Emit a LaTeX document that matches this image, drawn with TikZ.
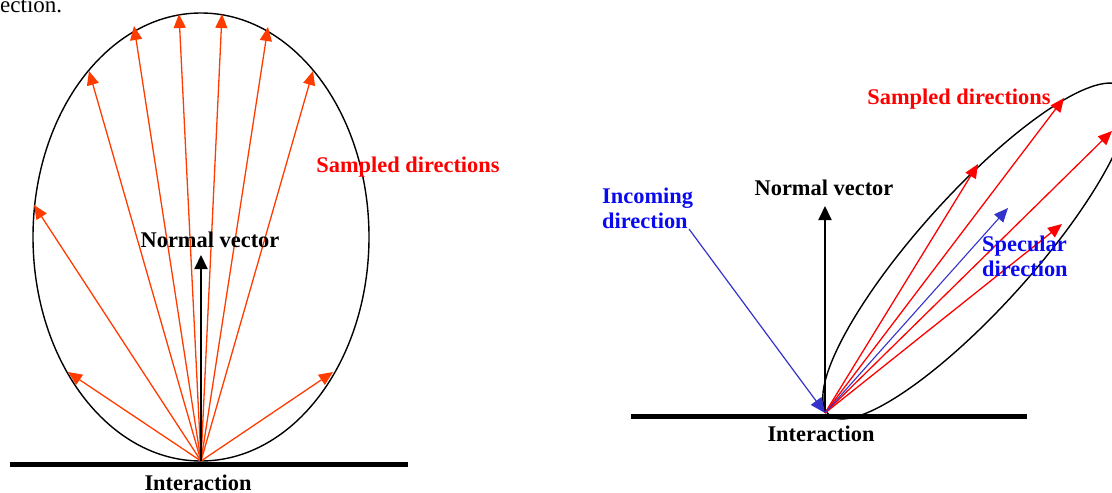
\documentclass[tikz,border=0pt]{standalone}
\usepackage{fontspec}
\setmainfont{Liberation Serif}
\usetikzlibrary{arrows.meta}

\definecolor{sampleorange}{RGB}{255,60,0}
\definecolor{samplered}{RGB}{255,0,0}
\definecolor{specblue}{RGB}{51,51,204}
\definecolor{labelblue}{RGB}{10,10,240}

\begin{document}
\begin{tikzpicture}[x=1pt,y=-1pt]
        % Style definitions
        \tikzset{
            lobe/.style={black, line width=1.4pt},
            ground/.style={black, line width=5pt},
            ray/.style={line width=1.3pt, -{Triangle[length=14pt,width=12pt]}},
            normal/.style={black, line width=2pt, -{Triangle[length=14pt,width=13pt]}},
            label/.style={font=\fontsize{22.4}{25}\selectfont\bfseries, inner sep=0pt}
        }
        \useasboundingbox (0,0) rectangle (1112,493);
        \clip (0,0) rectangle (1112,493);

        % caption fragment at the top
        \node[anchor=base west, inner sep=0pt, font=\fontsize{23}{25}\selectfont] (cut) at (0,12) {ection.};

        % ==========================================
        % LEFT LOBE (diffuse)
        % ==========================================
        \coordinate (O1) at (201,461);
        \draw[lobe] (201,237) ellipse [x radius=168, y radius=224];
        \draw[ground] (10,464) -- (408,464);

        \coordinate (l1) at (34,205);
        \coordinate (l2) at (68,372);
        \coordinate (l3) at (89,71);
        \coordinate (l4) at (134,26);
        \coordinate (l5) at (179,14);
        \coordinate (l6) at (222,14);
        \coordinate (l7) at (268,27);
        \coordinate (l8) at (313,71);
        \coordinate (l9) at (333,372);
        \coordinate (n1) at (201,255);

        % Sampled rays
        \draw[ray, sampleorange] (O1) -- (l1);
        \draw[ray, sampleorange] (O1) -- (l2);
        \draw[ray, sampleorange] (O1) -- (l3);
        \draw[ray, sampleorange] (O1) -- (l4);
        \draw[ray, sampleorange] (O1) -- (l5);
        \draw[ray, sampleorange] (O1) -- (l6);
        \draw[ray, sampleorange] (O1) -- (l7);
        \draw[ray, sampleorange] (O1) -- (l8);
        \draw[ray, sampleorange] (O1) -- (l9);
        \draw[normal] (O1) -- (n1);

        \node[label, anchor=base] (normL) at (210,247) {Normal vector};
        \node[label, anchor=base, samplered] (sampL) at (408,172) {Sampled directions};
        \node[label, anchor=base] (interL) at (198,490) {Interaction};

        % ==========================================
        % RIGHT LOBE (glossy)
        % ==========================================
        \coordinate (O2) at (825,413);
        \draw[lobe, shift={(976,251)}, rotate=48] (0,0) ellipse [x radius=220, y radius=57];
        \draw[ground] (631,416) -- (1027,416);

        \coordinate (r1) at (978,164);
        \coordinate (r2) at (1064,98);
        \coordinate (r3) at (1112,131);
        \coordinate (r4) at (1062,224);
        \coordinate (spec) at (1008,208);
        \coordinate (inc) at (689,229);
        \coordinate (n2) at (825,206);

        \draw[normal] (O2) -- (n2);
        \draw[specblue, line width=1.2pt, -{Triangle[length=15pt,width=13pt]}] (inc) -- (O2);
        \draw[ray, samplered] (O2) -- (r1);
        \draw[ray, samplered] (O2) -- (r2);
        \draw[ray, samplered] (O2) -- (r3);
        \draw[ray, samplered] (O2) -- (r4);
        \draw[ray, specblue, line width=1.1pt] (O2) -- (spec);

        \node[label, anchor=base] (normR) at (824,195) {Normal vector};
        \node[label, anchor=base, samplered] (sampR) at (959,104) {Sampled directions};
        \node[label, anchor=base] (interR) at (821,441) {Interaction};
        \node[label, labelblue, align=left, anchor=base west] (incL) at (602,228) {Incoming\\direction};
        \node[label, labelblue, align=left, anchor=base west] (specL) at (982,276) {Specular\\direction};
    \end{tikzpicture}
\end{document}
